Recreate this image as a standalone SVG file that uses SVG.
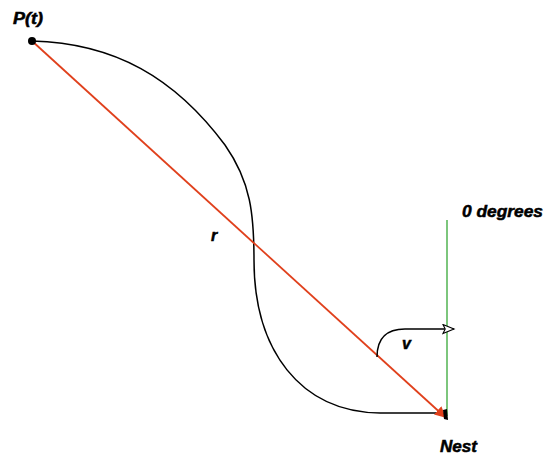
<svg xmlns="http://www.w3.org/2000/svg" width="552" height="454" viewBox="0 0 552 454">
<defs>
<style>
.lbl{font-family:"Liberation Sans",Arial,sans-serif;font-weight:bold;font-style:italic;font-size:16px;fill:#000;stroke:#000;stroke-width:0.5}
.curve{fill:none;stroke:#000;stroke-width:1.5}
</style>
<marker id="redHead" viewBox="0 0 10 10" refX="9" refY="5" markerWidth="11" markerHeight="11" markerUnits="userSpaceOnUse" orient="auto">
<path d="M0,0 L10,5 L0,10 Z" fill="#e0401c"/>
</marker>
<marker id="openHead" viewBox="0 0 12 10" refX="11" refY="5" markerWidth="14" markerHeight="11" markerUnits="userSpaceOnUse" orient="auto">
<path d="M1,1 L11,5 L1,9 L3,5 Z" fill="#fff" stroke="#000" stroke-width="1"/>
</marker>
</defs>
<rect width="552" height="454" fill="#fff"/>
<g id="connectors">
<line x1="447" y1="220" x2="447" y2="416" stroke="#5cb85c" stroke-width="1.6"/>
<path class="curve" d="M32,41 C115,43 175,78 225,145 C251,182 254,215 254,260 C254,350 300,412 380,413 L440,413"/>
<line x1="32" y1="41" x2="445" y2="417" stroke="#e0401c" stroke-width="1.8" marker-end="url(#redHead)"/>
<path class="curve" d="M377,357 C377,340 385,329 405,329 L454,329" marker-end="url(#openHead)"/>
</g>
<g id="pt">
<circle cx="32" cy="41" r="4" fill="#000"/>
<text class="lbl" x="13" y="24" textLength="30" lengthAdjust="spacingAndGlyphs">P(t)</text>
</g>
<g id="nest">
<path d="M443,410 L447,409 L448,420 L444,419 Z" fill="#000"/>
<text class="lbl" x="440" y="452" textLength="37" lengthAdjust="spacingAndGlyphs">Nest</text>
</g>
<g id="zero">
<text class="lbl" x="462" y="217" textLength="81" lengthAdjust="spacingAndGlyphs">0 degrees</text>
</g>
<g id="rlabel"><text class="lbl" x="211" y="241">r</text></g>
<g id="vlabel"><text class="lbl" x="402" y="349">v</text></g>
</svg>
